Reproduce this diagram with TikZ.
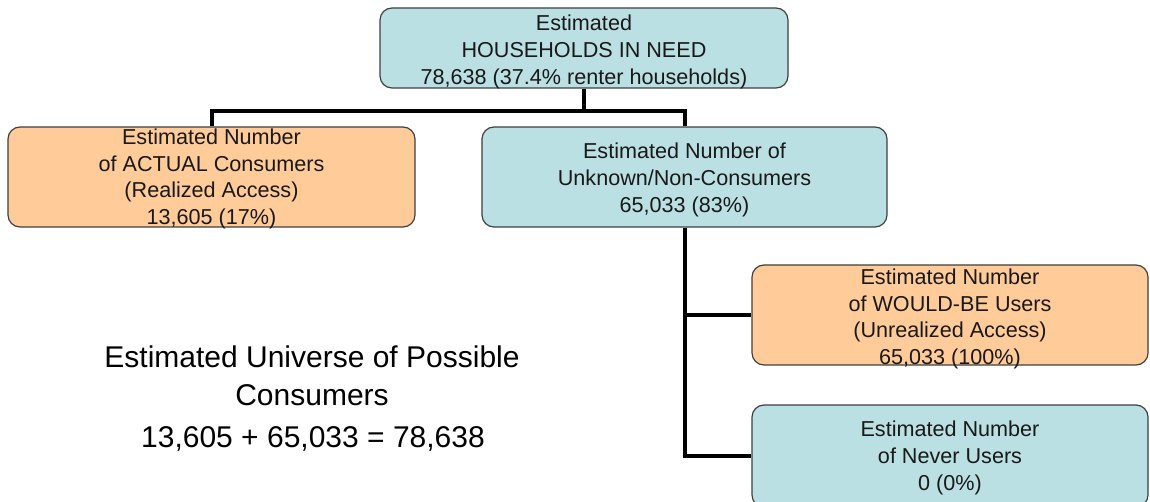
\documentclass[tikz,border=0pt]{standalone}
\usepackage{fontspec}
\setmainfont{Liberation Sans}
\definecolor{peach}{HTML}{FFCC99}
\definecolor{tealfill}{HTML}{BBE0E3}
\begin{document}
\begin{tikzpicture}[x=1pt,y=-1pt,
  box/.style={draw=black!75, line width=1.2pt, rounded corners=12pt, inner sep=0pt},
  orangebox/.style={box, fill=peach},
  tealbox/.style={box, fill=tealfill},
  lbl/.style={align=center, font=\fontsize{21.6}{26.6}\selectfont, inner sep=0pt, text=black!90},
  big/.style={align=center, font=\fontsize{30}{38}\selectfont, inner sep=0pt},
  conn/.style={line width=4pt}]
\clip (0,0) rectangle (1150,502);
\fill[white] (0,0) rectangle (1150,502);
% boxes
\node[tealbox, minimum width=408pt, minimum height=80pt] (top) at (584,48) {};
\node[orangebox, minimum width=407pt, minimum height=100pt] (act) at (211.5,177) {};
\node[tealbox, minimum width=405pt, minimum height=100pt] (unk) at (684.5,177) {};
\node[orangebox, minimum width=396pt, minimum height=100pt] (wb) at (950,315) {};
\node[tealbox, minimum width=396pt, minimum height=102pt] (nev) at (950,456) {};
% connectors
\coordinate (j1) at (584,111);
\draw[conn] (top.south) -- (j1);
\draw[conn] (act.north) |- (j1) -| (unk.north);
\draw[conn] (unk.south) |- (wb.west);
\draw[conn] (unk.south) |- (nev.west);
% texts
\node[lbl] (ttop) at (584,52) {Estimated\\HOUSEHOLDS IN NEED\\78,638 (37.4\% renter households)};
\node[lbl] (tact) at (211.5,179) {Estimated Number\\of ACTUAL Consumers\\(Realized Access)\\13,605 (17\%)};
\node[lbl] (tunk) at (684.5,180) {Estimated Number of\\Unknown/Non-Consumers\\65,033 (83\%)};
\node[lbl] (twb) at (950,319) {Estimated Number\\of WOULD-BE Users\\(Unrealized Access)\\65,033 (100\%)};
\node[lbl] (tnev) at (950,458) {Estimated Number\\of Never Users\\0 (0\%)};
\node[big] (univ) at (312,376) {Estimated Universe of Possible\\Consumers};
\node[big] (eq) at (313,439) {13,605 + 65,033 = 78,638};
\end{tikzpicture}
\end{document}
